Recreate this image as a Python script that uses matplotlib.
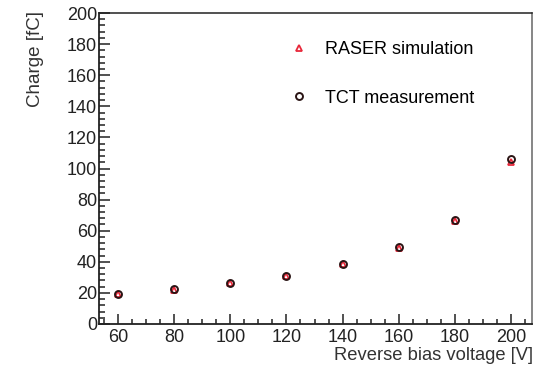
import matplotlib
matplotlib.use("Agg")
import matplotlib.pyplot as plt
from matplotlib.ticker import MultipleLocator

plt.rcParams["font.family"] = ["Liberation Sans", "DejaVu Sans"]

# reverse bias voltage [V] and collected charge [fC]
voltage = [60, 80, 100, 120, 140, 160, 180, 200]
raser_sim = [19.0, 22.0, 26.5, 31.0, 38.5, 49.0, 66.5, 104.0]
tct_meas = [19.0, 22.5, 26.5, 31.0, 38.5, 49.5, 67.0, 106.0]

fig = plt.figure(figsize=(5.44, 3.66), dpi=100)
ax = fig.add_axes([99 / 544, 42 / 366, 433 / 544, 311 / 366])

ax.plot(voltage, raser_sim, linestyle="none", marker="^", markersize=5,
        markerfacecolor="none", markeredgecolor="#e8283a", markeredgewidth=1.3,
        label="RASER simulation", zorder=3)
ax.plot(voltage, tct_meas, linestyle="none", marker="o", markersize=5,
        markerfacecolor="none", markeredgecolor="#2a1414", markeredgewidth=1.4,
        label="TCT measurement", zorder=4)

ax.set_xlim(53.2, 207.5)
ax.set_ylim(0, 200)
ax.xaxis.set_major_locator(MultipleLocator(20))
ax.xaxis.set_minor_locator(MultipleLocator(5))
ax.yaxis.set_major_locator(MultipleLocator(20))
ax.yaxis.set_minor_locator(MultipleLocator(4))

ax.tick_params(axis="both", which="both", direction="in", top=False, right=False,
               labelsize=13, labelcolor="#222222", color="#222222", width=1.1)
ax.tick_params(axis="y", which="major", length=8, pad=1.5)
ax.tick_params(axis="y", which="minor", length=4)
ax.tick_params(axis="x", which="major", length=7, pad=3.5)
ax.tick_params(axis="x", which="minor", length=3.5)
for name, sp in ax.spines.items():
    sp.set_linewidth(1.3 if name in ("left", "bottom") else 1.1)
    sp.set_color("#222222" if name in ("left", "bottom", "top") else "#666666")

fig.text(36 / 544, 1 - 11 / 366, "Charge [fC]", rotation=90, ha="center",
         va="top", fontsize=13.5, color="#333333")
fig.text(533 / 544, 1 - 355 / 366, "Reverse bias voltage [V]", ha="right",
         va="center", fontsize=13.2, color="#333333")

ax.legend(loc="upper left", bbox_to_anchor=(290 / 544, 1 - 41 / 366),
          bbox_transform=fig.transFigure, frameon=False, fontsize=13,
          handlelength=1.0, handletextpad=0.95, labelspacing=1.75,
          borderpad=0, borderaxespad=0, numpoints=1)

fig.savefig("out.png", dpi=100)
